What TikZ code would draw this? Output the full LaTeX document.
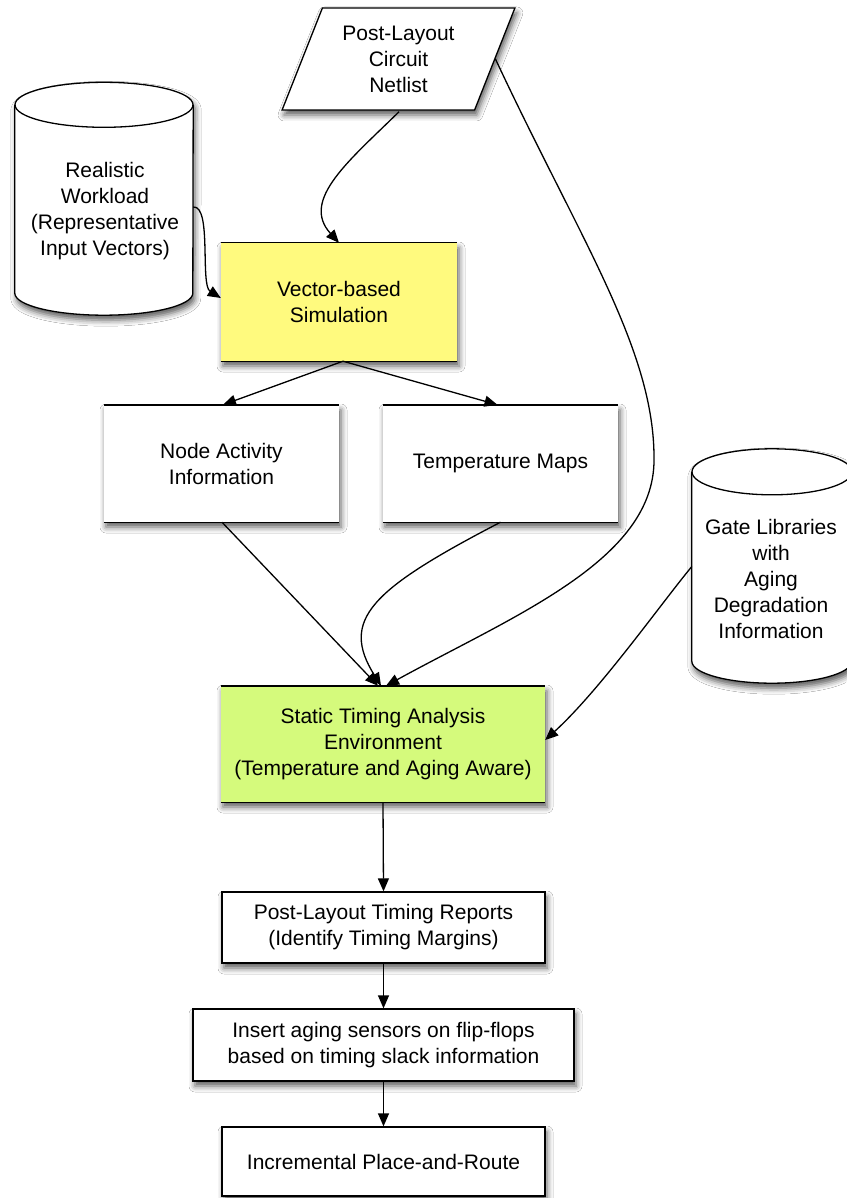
\documentclass[tikz,border=0pt]{standalone}
\usepackage{fontspec}
\setmainfont{Liberation Sans}
\usetikzlibrary{arrows.meta,shapes.geometric,shadows.blur,calc}
\definecolor{simyellow}{RGB}{255,250,126}
\definecolor{stagreen}{RGB}{213,250,124}
\begin{document}
\begin{tikzpicture}[x=1pt,y=-1pt,
  dropshade/.style={blur shadow={shadow xshift=2pt,shadow yshift=-5pt,shadow blur radius=6pt,shadow opacity=65}},
  lbl/.style={font=\fontsize{21}{26}\selectfont,align=center,text=black,inner sep=0pt},
  outline/.style={draw=black,line width=1.3pt},
  panel/.style={rectangle,inner sep=0pt,dropshade,lbl},
  framed/.style={panel,outline,fill=white},
  hrule/.style={line width=1.4pt,black},
  link/.style={line width=1.3pt,black,-{Triangle[length=13pt,width=11pt]}},
  body/.style={inner sep=0pt}]

\useasboundingbox (0,0) rectangle (846,1198);
\fill[white] (0,0) rectangle (846,1198);

% netlist input (parallelogram)
\node[trapezium,trapezium left angle=66,trapezium right angle=114,trapezium stretches=true,
      minimum width=233,minimum height=102,outline,fill=white,dropshade,lbl]
  (nl) at (398.5,59) {Post-Layout\\Circuit\\Netlist};

% workload store (cylinder)
\node[body,minimum width=178,minimum height=188] (wl) at (104,199) {};
\path[dropshade,fill=white] (wl.north west) -- (wl.south west)
  arc[start angle=180,end angle=0,x radius=89,y radius=22] -- (wl.north east)
  arc[start angle=0,end angle=-180,x radius=89,y radius=22.5] -- cycle;
\draw[outline] (wl.north west) -- (wl.south west)
  arc[start angle=180,end angle=0,x radius=89,y radius=22] -- (wl.north east);
\draw[outline] (wl.north) ellipse[x radius=89,y radius=22.5];
\node[lbl] (wltext) at (105,211) {Realistic\\Workload\\(Representative\\Input Vectors)};

% gate library store (cylinder)
\node[body,minimum width=160,minimum height=189] (gl) at (772,566.5) {};
\path[dropshade,fill=white] (gl.north west) -- (gl.south west)
  arc[start angle=180,end angle=0,x radius=80,y radius=22] -- (gl.north east)
  arc[start angle=0,end angle=-180,x radius=80,y radius=23] -- cycle;
\draw[outline] (gl.north west) -- (gl.south west)
  arc[start angle=180,end angle=0,x radius=80,y radius=22] -- (gl.north east);
\draw[outline] (gl.north) ellipse[x radius=80,y radius=23];
\node[lbl] (gltext) at (771,578.5) {Gate Libraries\\with\\Aging\\Degradation\\Information};

% process boxes with top and bottom rules
\node[panel,fill=simyellow,minimum width=236,minimum height=118] (sim) at (339,302) {Vector-based\\Simulation};
\node[panel,fill=white,minimum width=235,minimum height=117] (na) at (221.5,463.5) {Node Activity\\Information};
\node[panel,fill=white,minimum width=235,minimum height=117] (tm) at (500.5,463.5) {Temperature Maps};
\node[panel,fill=stagreen,minimum width=324,minimum height=116] (sta) at (383,744)
  {Static Timing Analysis\\Environment\\(Temperature and Aging Aware)};
\foreach \n in {sim,na,tm,sta}{
  \draw[hrule] (\n.north west) -- (\n.north east) (\n.south west) -- (\n.south east);
}

% framed boxes
\node[framed,minimum width=323,minimum height=71] (rep) at (383.5,927.5)
  {Post-Layout Timing Reports\\(Identify Timing Margins)};
\node[framed,minimum width=381,minimum height=72] (ins) at (383.5,1045)
  {Insert aging sensors on flip-flops\\based on timing slack information};
\node[framed,minimum width=323,minimum height=69] (inc) at (383.5,1161.5)
  {Incremental Place-and-Route};

% connectors
\draw[link] ($(nl.bottom side)+(21,1)$) .. controls (350,160) and (300,200) .. (sim.north);
\draw[link] ($(wl.east)+(0,8)$) .. controls (212,205) and (200,285) .. ($(sim.west)+(0,-4)$);
\draw[link] (nl.right side) .. controls (580,240) and (655,350) .. (654,460)
  .. controls (654,560) and (515,615) .. ($(sta.north)+(3,0)$);
\draw[link] ($(sim.south)+(4,0)$) -- ($(na.north)+(1.5,0)$);
\draw[link] ($(sim.south)+(4,0)$) -- ($(tm.north)+(-3,0)$);
\draw[link] ($(na.south)+(0.5,0)$) -- ($(sta.north)+(-5,0)$);
\draw[link] (tm.south) .. controls (370,590) and (340,620) .. ($(sta.north)+(-2,0)$);
\draw[link] (gl.west) .. controls (660,605) and (600,690) .. ($(sta.east)+(0,-4)$);
\draw[link] (sta.south) -- (rep.north);
\draw[link] (rep.south) -- (ins.north);
\draw[link] (ins.south) -- (inc.north);
\end{tikzpicture}
\end{document}
